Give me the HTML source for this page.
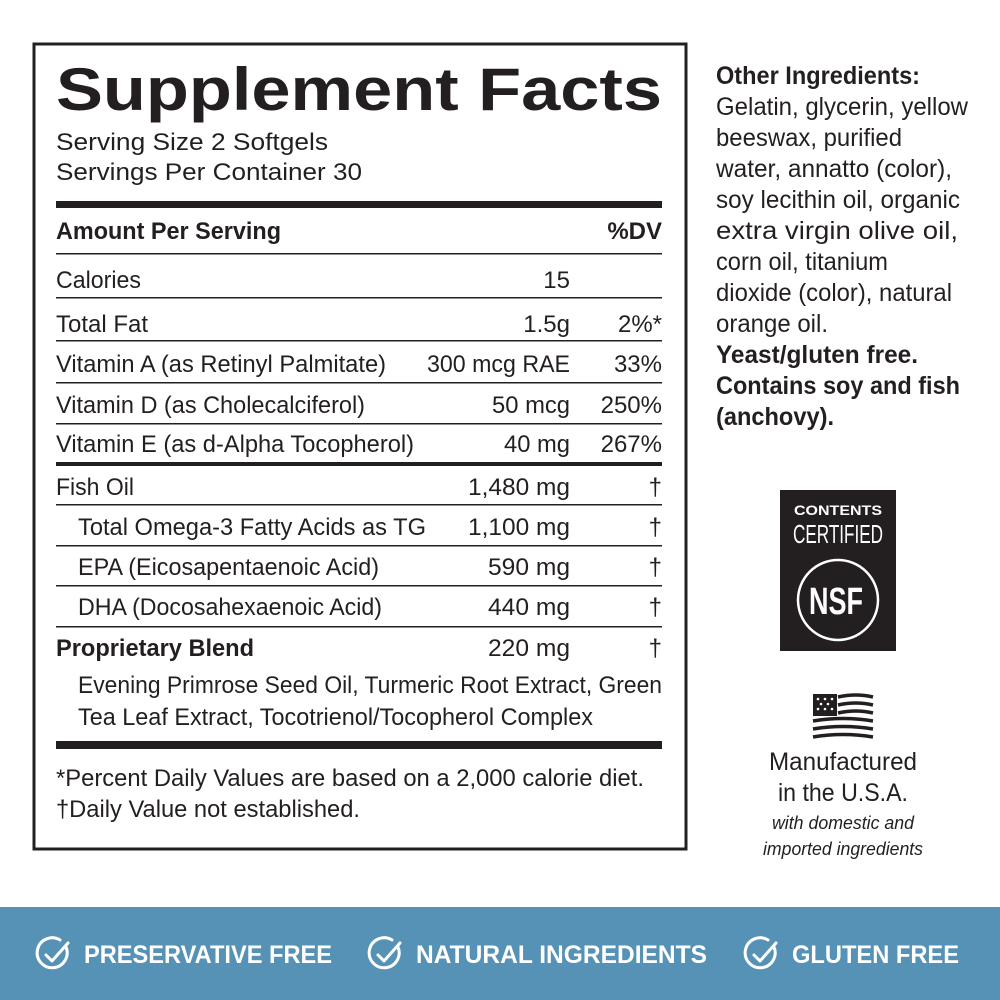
<!DOCTYPE html>
<html><head><meta charset="utf-8"><style>
html,body{margin:0;padding:0;background:#fff;}
svg{display:block}
text{font-family:"Liberation Sans Narrow","Liberation Sans",sans-serif;fill:#231f20}
.b{font-weight:bold}
.w{fill:#fff;font-family:"Liberation Sans",sans-serif;font-weight:bold}
</style></head><body>
<svg width="1000" height="1000" viewBox="0 0 1000 1000" xmlns="http://www.w3.org/2000/svg">
<rect x="34" y="44" width="652" height="805" fill="none" stroke="#231f20" stroke-width="3"/>
<text x="56" y="110" class="b" style="font-family:'Liberation Sans',sans-serif;font-size:60px" textLength="606" lengthAdjust="spacingAndGlyphs">Supplement Facts</text>
<g font-size="24">
<text x="56" y="150" textLength="272" lengthAdjust="spacingAndGlyphs">Serving Size 2 Softgels</text>
<text x="56" y="180" textLength="306" lengthAdjust="spacingAndGlyphs">Servings Per Container 30</text>
</g>
<rect x="56" y="201" width="606" height="7" fill="#231f20"/>
<g fill="#231f20">
<rect x="56" y="253" width="606" height="1.5"/>
<rect x="56" y="297" width="606" height="1.5"/>
<rect x="56" y="340" width="606" height="1.5"/>
<rect x="56" y="382" width="606" height="1.5"/>
<rect x="56" y="423" width="606" height="1.5"/>
<rect x="56" y="462" width="606" height="4"/>
<rect x="56" y="504" width="606" height="1.5"/>
<rect x="56" y="545" width="606" height="1.5"/>
<rect x="56" y="585" width="606" height="1.5"/>
<rect x="56" y="626" width="606" height="1.5"/>
<rect x="56" y="741" width="606" height="8"/>
</g>
<g font-size="24">
<text x="56" y="239" class="b" textLength="225" lengthAdjust="spacingAndGlyphs">Amount Per Serving</text>
<text x="662" y="239" class="b" text-anchor="end">%DV</text>
<text x="56" y="288" textLength="85" lengthAdjust="spacingAndGlyphs">Calories</text>
<text x="570" y="288" text-anchor="end">15</text>
<text x="56" y="332" textLength="92" lengthAdjust="spacingAndGlyphs">Total Fat</text>
<text x="570" y="332" text-anchor="end">1.5g</text>
<text x="662" y="332" text-anchor="end">2%*</text>
<text x="56" y="372" textLength="330" lengthAdjust="spacingAndGlyphs">Vitamin A (as Retinyl Palmitate)</text>
<text x="570" y="372" text-anchor="end" textLength="143" lengthAdjust="spacingAndGlyphs">300 mcg RAE</text>
<text x="662" y="372" text-anchor="end">33%</text>
<text x="56" y="413" textLength="309" lengthAdjust="spacingAndGlyphs">Vitamin D (as Cholecalciferol)</text>
<text x="570" y="413" text-anchor="end" textLength="78" lengthAdjust="spacingAndGlyphs">50 mcg</text>
<text x="662" y="413" text-anchor="end">250%</text>
<text x="56" y="452" textLength="358" lengthAdjust="spacingAndGlyphs">Vitamin E (as d-Alpha Tocopherol)</text>
<text x="570" y="452" text-anchor="end" textLength="66" lengthAdjust="spacingAndGlyphs">40 mg</text>
<text x="662" y="452" text-anchor="end">267%</text>
<text x="56" y="495" textLength="78" lengthAdjust="spacingAndGlyphs">Fish Oil</text>
<text x="570" y="495" text-anchor="end" textLength="102" lengthAdjust="spacingAndGlyphs">1,480 mg</text>
<text x="662" y="495" text-anchor="end">†</text>
<text x="78" y="535" textLength="348" lengthAdjust="spacingAndGlyphs">Total Omega-3 Fatty Acids as TG</text>
<text x="570" y="535" text-anchor="end" textLength="102" lengthAdjust="spacingAndGlyphs">1,100 mg</text>
<text x="662" y="535" text-anchor="end">†</text>
<text x="78" y="575" textLength="301" lengthAdjust="spacingAndGlyphs">EPA (Eicosapentaenoic Acid)</text>
<text x="570" y="575" text-anchor="end" textLength="82" lengthAdjust="spacingAndGlyphs">590 mg</text>
<text x="662" y="575" text-anchor="end">†</text>
<text x="78" y="615" textLength="304" lengthAdjust="spacingAndGlyphs">DHA (Docosahexaenoic Acid)</text>
<text x="570" y="615" text-anchor="end" textLength="82" lengthAdjust="spacingAndGlyphs">440 mg</text>
<text x="662" y="615" text-anchor="end">†</text>
<text x="56" y="656" class="b" textLength="198" lengthAdjust="spacingAndGlyphs">Proprietary Blend</text>
<text x="570" y="656" text-anchor="end" textLength="82" lengthAdjust="spacingAndGlyphs">220 mg</text>
<text x="662" y="656" text-anchor="end">†</text>
<text x="78" y="693" textLength="584" lengthAdjust="spacingAndGlyphs">Evening Primrose Seed Oil, Turmeric Root Extract, Green</text>
<text x="78" y="725" textLength="515" lengthAdjust="spacingAndGlyphs">Tea Leaf Extract, Tocotrienol/Tocopherol Complex</text>
<text x="56" y="786" textLength="588" lengthAdjust="spacingAndGlyphs">*Percent Daily Values are based on a 2,000 calorie diet.</text>
<text x="56" y="817" textLength="304" lengthAdjust="spacingAndGlyphs">†Daily Value not established.</text>
</g>
<g font-size="25">
<text x="716" y="84" class="b" textLength="204" lengthAdjust="spacingAndGlyphs">Other Ingredients:</text>
<text x="716" y="115" textLength="252" lengthAdjust="spacingAndGlyphs">Gelatin, glycerin, yellow</text>
<text x="716" y="146" textLength="186" lengthAdjust="spacingAndGlyphs">beeswax, purified</text>
<text x="716" y="177" textLength="236" lengthAdjust="spacingAndGlyphs">water, annatto (color),</text>
<text x="716" y="208" textLength="244" lengthAdjust="spacingAndGlyphs">soy lecithin oil, organic</text>
<text x="716" y="239" textLength="242" lengthAdjust="spacingAndGlyphs">extra virgin olive oil,</text>
<text x="716" y="270" textLength="172" lengthAdjust="spacingAndGlyphs">corn oil, titanium</text>
<text x="716" y="301" textLength="236" lengthAdjust="spacingAndGlyphs">dioxide (color), natural</text>
<text x="716" y="332" textLength="112" lengthAdjust="spacingAndGlyphs">orange oil.</text>
<text x="716" y="363" class="b" textLength="202" lengthAdjust="spacingAndGlyphs">Yeast/gluten free.</text>
<text x="716" y="394" class="b" textLength="244" lengthAdjust="spacingAndGlyphs">Contains soy and fish</text>
<text x="716" y="425" class="b" textLength="118" lengthAdjust="spacingAndGlyphs">(anchovy).</text>
</g>
<rect x="780" y="490" width="116" height="161" fill="#231f20"/>
<text x="838" y="515" class="w" font-size="14" text-anchor="middle" textLength="88" lengthAdjust="spacingAndGlyphs">CONTENTS</text>
<text x="838" y="543" class="w" style="font-family:'Liberation Sans Narrow','Liberation Sans',sans-serif;font-weight:normal" font-size="26" text-anchor="middle" textLength="90" lengthAdjust="spacingAndGlyphs">CERTIFIED</text>
<circle cx="838" cy="600" r="40" fill="none" stroke="#fff" stroke-width="2.5"/>
<text x="836" y="614" class="w" font-size="38" text-anchor="middle" textLength="54" lengthAdjust="spacingAndGlyphs">NSF</text>
<g fill="none" stroke="#231f20" stroke-width="3.5">
<path d="M838 697 q18 -4 35 0"/>
<path d="M838 705 q18 -4 35 0"/>
<path d="M838 713 q18 -4 35 0"/>
<path d="M813 721 q30 -5 60 0"/>
<path d="M813 729 q30 -5 60 0"/>
<path d="M813 737 q30 -5 60 0"/>
</g>
<rect x="813" y="694" width="24" height="22" fill="#231f20"/>
<g fill="#fff">
<circle cx="818" cy="699" r="1.3"/><circle cx="825" cy="699" r="1.3"/><circle cx="832" cy="699" r="1.3"/>
<circle cx="821" cy="704" r="1.3"/><circle cx="828" cy="704" r="1.3"/>
<circle cx="818" cy="709" r="1.3"/><circle cx="825" cy="709" r="1.3"/><circle cx="832" cy="709" r="1.3"/>
</g>
<g font-size="25" text-anchor="middle">
<text x="843" y="770" textLength="148" lengthAdjust="spacingAndGlyphs">Manufactured</text>
<text x="843" y="801" textLength="130" lengthAdjust="spacingAndGlyphs">in the U.S.A.</text>
</g>
<g font-size="18" font-style="italic" text-anchor="middle">
<text x="843" y="829" textLength="142" lengthAdjust="spacingAndGlyphs">with domestic and</text>
<text x="843" y="855" textLength="160" lengthAdjust="spacingAndGlyphs">imported ingredients</text>
</g>
<rect x="0" y="907" width="1000" height="93" fill="#5592b5"/>
<g fill="none" stroke="#fff" stroke-width="3" stroke-linecap="round" stroke-linejoin="round">
<path d="M66 947 A15 15 0 1 1 60 940"/><path d="M46 955 l6 6 l16 -18"/>
<path d="M398 947 A15 15 0 1 1 392 940"/><path d="M378 955 l6 6 l16 -18"/>
<path d="M774 947 A15 15 0 1 1 768 940"/><path d="M754 955 l6 6 l16 -18"/>
</g>
<text x="84" y="963" class="w" font-size="25" textLength="248" lengthAdjust="spacingAndGlyphs">PRESERVATIVE FREE</text>
<text x="416" y="963" class="w" font-size="25" textLength="291" lengthAdjust="spacingAndGlyphs">NATURAL INGREDIENTS</text>
<text x="792" y="963" class="w" font-size="25" textLength="167" lengthAdjust="spacingAndGlyphs">GLUTEN FREE</text>
</svg>
</body></html>
